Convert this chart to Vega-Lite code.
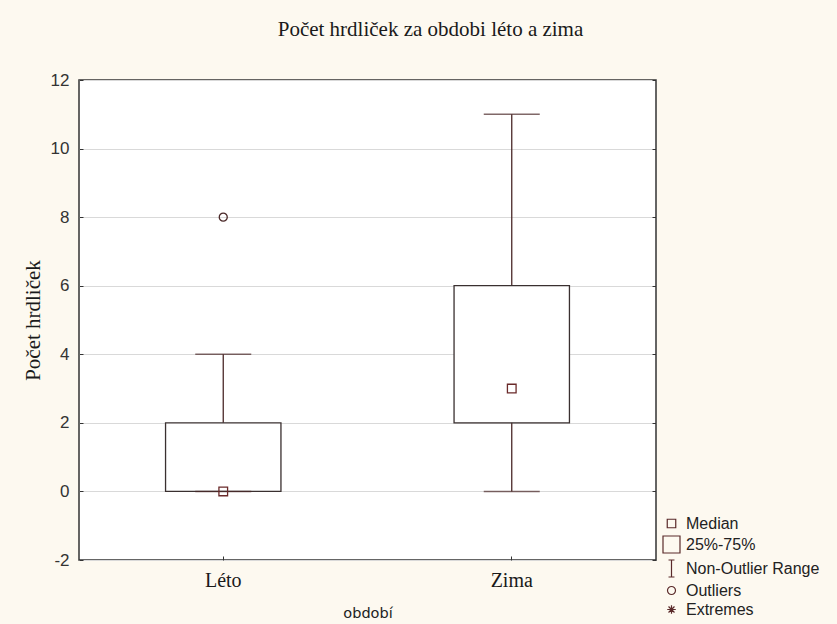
{
  "$schema": "https://vega.github.io/schema/vega-lite/v6.json",
  "autosize": "none",
  "width": 577,
  "height": 480,
  "padding": {"left": 79, "top": 80, "right": 181, "bottom": 64},
  "background": "#fdf9f0",
  "title": {
    "text": "Počet hrdliček za obdobi léto a zima",
    "font": "Liberation Serif",
    "fontSize": 21,
    "fontWeight": "normal",
    "color": "#1a1a1a",
    "anchor": "middle",
    "dx": 63,
    "offset": 31
  },
  "config": {
    "view": {"fill": "white", "stroke": "#333333", "strokeWidth": 1.5},
    "axis": {
      "domain": false,
      "tickSize": -4,
      "tickColor": "#333333",
      "labelFont": "Liberation Sans",
      "labelColor": "#333333"
    },
    "legend": {
      "labelFont": "Liberation Sans",
      "labelFontSize": 16,
      "labelColor": "#222222",
      "symbolSize": 289,
      "symbolStrokeColor": "#5a2a2a",
      "symbolFillColor": "transparent",
      "symbolStrokeWidth": 1.2,
      "rowPadding": 1,
      "labelOffset": 5,
      "padding": 0
    }
  },
  "datasets": {
    "stats": [
      {"obdobi": "Léto", "min": 0, "q1": 0, "median": 0, "q3": 2, "max": 4, "typ": "Median"},
      {"obdobi": "Zima", "min": 0, "q1": 2, "median": 3, "q3": 6, "max": 11, "typ": "Median"}
    ],
    "outliers": [
      {"obdobi": "Léto", "value": 8, "typ": "Outliers"}
    ]
  },
  "resolve": {"axis": {"y": "independent"}},
  "encoding": {
    "x": {
      "field": "obdobi",
      "type": "nominal",
      "sort": ["Léto", "Zima"],
      "scale": {"paddingInner": 0, "paddingOuter": 0},
      "axis": {
        "title": "období",
        "titleFont": "DejaVu Sans",
        "titleFontSize": 14.5,
        "titleFontWeight": "normal",
        "titleColor": "#222222",
        "titlePadding": 16,
        "labelFont": "Liberation Serif",
        "labelFontSize": 20,
        "labelColor": "#1a1a1a",
        "labelPadding": 14,
        "labelAngle": 0,
        "grid": false
      }
    }
  },
  "layer": [
    {
      "data": {"name": "stats"},
      "mark": {"type": "rule", "color": "#4a2828", "strokeWidth": 1.3},
      "encoding": {
        "y": {
          "field": "min",
          "type": "quantitative",
          "scale": {"domain": [-2, 12], "nice": false, "zero": false},
          "axis": {
            "title": "Počet hrdliček",
            "titleFont": "Liberation Serif",
            "titleFontSize": 21,
            "titleFontWeight": "normal",
            "titleColor": "#1a1a1a",
            "titlePadding": 7,
            "values": [-2, 0, 2, 4, 6, 8, 10, 12],
            "labelExpr": "'' + datum.value",
            "labelFontSize": 17,
            "labelPadding": 14,
            "grid": true,
            "gridColor": "#d9d9d9"
          }
        },
        "y2": {"field": "max"}
      }
    },
    {
      "data": {"name": "stats"},
      "mark": {"type": "bar", "fill": "white", "stroke": "#3a3030", "strokeWidth": 1.3, "width": {"band": 0.4}},
      "encoding": {
        "y": {
          "field": "q1",
          "type": "quantitative",
          "axis": {"orient": "right", "title": null, "labels": false, "grid": false, "values": [-2, 0, 2, 4, 6, 8, 10, 12]}
        },
        "y2": {"field": "q3"}
      }
    },
    {
      "data": {"name": "stats"},
      "mark": {"type": "tick", "color": "#4a2828", "size": 56, "thickness": 1.5},
      "encoding": {"y": {"field": "max", "type": "quantitative", "axis": null}}
    },
    {
      "data": {"name": "stats"},
      "mark": {"type": "tick", "color": "#4a2828", "size": 56, "thickness": 1.5},
      "encoding": {"y": {"field": "min", "type": "quantitative", "axis": null}}
    },
    {
      "data": {"name": "stats"},
      "mark": {"type": "point", "filled": false, "stroke": "#6a2a2a", "strokeWidth": 1.3, "size": 300, "opacity": 1},
      "encoding": {
        "y": {"field": "median", "type": "quantitative", "axis": null},
        "shape": {
          "field": "typ",
          "type": "nominal",
          "scale": {
            "domain": ["Median", "25%-75%", "Non-Outlier Range", "Outliers", "Extremes"],
            "range": [
              "M-0.5,-0.5H0.5V0.5H-0.5Z",
              "M-1,-1H1V1H-1Z",
              "M-0.35,-1H0.35M0,-1V1M-0.35,1H0.35",
              "M0.47,0A0.47,0.47,0,1,1,-0.47,0A0.47,0.47,0,1,1,0.47,0Z",
              "M-0.5,0H0.5M0,-0.5V0.5M-0.35,-0.35L0.35,0.35M-0.35,0.35L0.35,-0.35"
            ]
          },
          "legend": {"title": null, "orient": "none", "legendX": 583, "legendY": 434}
        }
      }
    },
    {
      "data": {"name": "outliers"},
      "mark": {"type": "point", "filled": false, "stroke": "#4a2828", "strokeWidth": 1.3, "size": 290, "opacity": 1},
      "encoding": {
        "y": {"field": "value", "type": "quantitative", "axis": null},
        "shape": {"field": "typ", "type": "nominal"}
      }
    }
  ]
}
